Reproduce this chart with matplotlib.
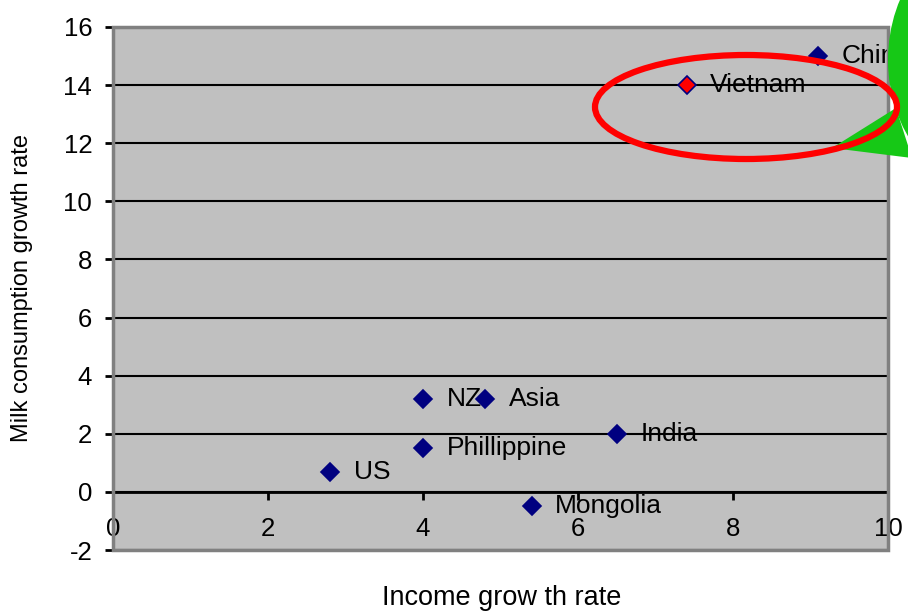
# -*- coding: utf-8 -*-
import numpy as np
from matplotlib import pyplot as plt
from matplotlib.patches import Ellipse, Polygon, Rectangle
from matplotlib.transforms import Affine2D

# Dados
paises = ["China", "Vietnam", "NZ", "Asia", "India", "Phillippine", "US", "Mongolia"]
renda = [9.1, 7.4, 4.0, 4.8, 6.5, 4.0, 2.8, 5.4]
leite = [15.0, 14.0, 3.2, 3.2, 2.0, 1.5, 0.7, -0.5]
destaque = "Vietnam"

xticks = [0, 2, 4, 6, 8, 10]
yticks = [-2, 0, 2, 4, 6, 8, 10, 12, 14, 16]

plt.rcParams['font.family'] = ['Liberation Sans', 'DejaVu Sans']

fig = plt.figure(figsize=(9.08, 6.12), dpi=100)
ax = fig.add_axes([113/908, 1 - 550/612, 775/908, 523/612])
ax.set_facecolor("#C0C0C0")
ax.set_axisbelow(False)

# Pontos e rótulos
for nome, x, y in zip(paises, renda, leite):
    cor = "red" if nome == destaque else "#000080"
    ax.plot(x, y, marker="D", ms=9, mfc=cor, mec="#000080", mew=1.2,
            ls="none", zorder=3, clip_on=False)
    ax.annotate(nome, (x, y), xytext=(17, 0), textcoords="offset points",
                va="center", ha="left", fontsize=19, zorder=2,
                annotation_clip=False)

ax.set_xlim(0, 10)
ax.set_ylim(-2, 16)
ax.set_xticks(xticks)
ax.set_yticks(yticks)
ax.grid(axis="y", color="black", lw=1.5)

# Eixo x cruzando em y = 0
ax.spines["bottom"].set_position(("data", 0))
ax.spines["bottom"].set_linewidth(2)
ax.spines["left"].set_linewidth(2)
ax.spines["top"].set_visible(False)
ax.spines["right"].set_visible(False)
ax.add_patch(Rectangle((0, 0), 1, 1, transform=ax.transAxes, fill=False,
                       ec="#808080", lw=2.5, zorder=2.6, clip_on=False))

ax.tick_params(axis="x", direction="out", length=6, width=2, pad=12, labelsize=18.5)
ax.tick_params(axis="y", direction="out", length=6, width=2, pad=9, labelsize=18.5)
ax.set_xticklabels([str(t) for t in xticks])
ax.set_yticklabels([str(t) for t in yticks])

fig.text(502/908, 1 - 598/612, "Income grow th rate", ha="center", va="center", fontsize=19.5)
fig.text(22/908, 1 - 288/612, "Milk consumption growth rate", rotation=90,
         ha="center", va="center", fontsize=17)

# Destaques desenhados por cima (em pixels da figura)
px = Affine2D().scale(1/908, 1/612) + fig.transFigure
verde = "#16C816"
fig.add_artist(Ellipse((993, 612 - 60), 210, 260, transform=px, fc=verde, ec="none", zorder=2))
fig.add_artist(Polygon([(832, 612 - 148), (896, 612 - 108), (912, 612 - 158)],
                       transform=px, fc=verde, ec="none", zorder=2))
fig.add_artist(Ellipse((746, 612 - 107), 302, 104, transform=px, fc="none",
                       ec="red", lw=4.5, zorder=3))

fig.savefig("out.png", dpi=100)
